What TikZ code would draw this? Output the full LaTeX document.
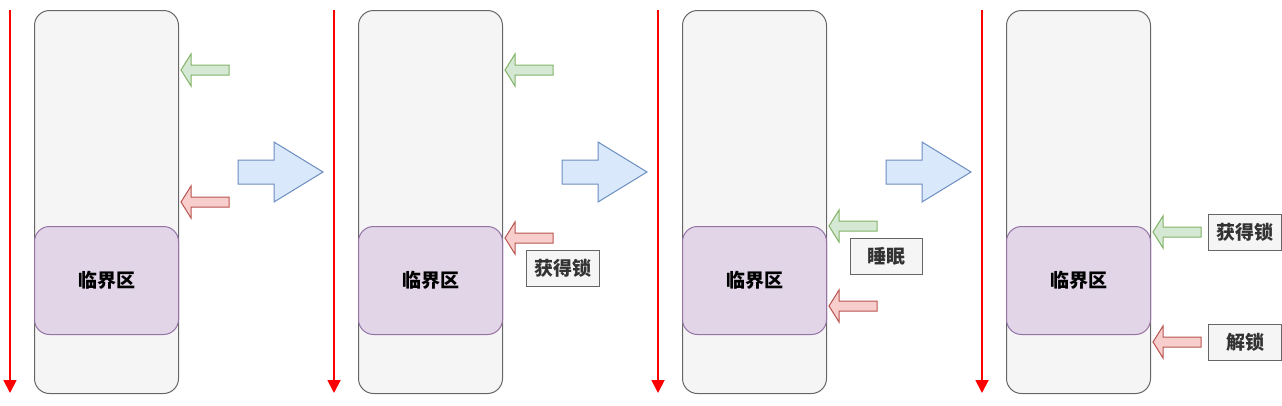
\documentclass[tikz,border=0pt]{standalone}
\usepackage{fontspec}
\setmainfont{Noto Sans CJK SC}
\usetikzlibrary{arrows.meta}
\definecolor{grayfill}{HTML}{F5F5F5}
\definecolor{graydraw}{HTML}{666666}
\definecolor{purplefill}{HTML}{E1D5E7}
\definecolor{purpledraw}{HTML}{9673A6}
\definecolor{greenfill}{HTML}{D5E8D4}
\definecolor{greendraw}{HTML}{82B366}
\definecolor{redfill}{HTML}{F8CECC}
\definecolor{reddraw}{HTML}{B85450}
\definecolor{bluefill}{HTML}{DAE8FC}
\definecolor{bluedraw}{HTML}{6C8EBF}
\definecolor{labeltext}{HTML}{333333}
\tikzset{
  threadbox/.style={draw=graydraw,fill=grayfill,rounded corners=15pt,line width=1pt},
  critbox/.style={draw=purpledraw,fill=purplefill,rounded corners=15pt,line width=1pt,
    font=\fontsize{19}{22}\selectfont\bfseries,text=black},
  labelbox/.style={draw=graydraw,fill=grayfill,line width=1pt,
    font=\fontsize{19}{22}\selectfont\bfseries,text=labeltext,inner sep=0pt},
  timeline/.style={draw=red,line width=1.8pt,-{Triangle[length=13pt,width=13pt]}},
  greenarr/.style={draw=greendraw,fill=greenfill,line width=1pt},
  redarr/.style={draw=reddraw,fill=redfill,line width=1pt},
  bluearr/.style={draw=bluedraw,fill=bluefill,line width=1pt},
}
\newcommand\mylarrow[3]{% style, tipx, tipy
  \draw[#1] (#2,#3) -- ++(10,-16) -- ++(0,11) -- ++(38,0) -- ++(0,10) -- ++(-38,0) -- ++(0,11) -- cycle;}
\newcommand\mybigarrow[1]{% left x
  \draw[bluearr] (#1,160) -- ++(36,0) -- ++(0,-18) -- ++(49,30) -- ++(-49,30) -- ++(0,-18) -- ++(-36,0) -- cycle;}
\begin{document}
\begin{tikzpicture}[x=1pt,y=-1pt]
\useasboundingbox (0,0) rectangle (1282,405);
% panels
\foreach \i/\dx in {1/0,2/324,3/648,4/972}{
  \coordinate (ts\i) at (10+\dx,10);
  \coordinate (te\i) at (10+\dx,393);
  \draw[timeline] (ts\i) -- (te\i);
  \node[threadbox,minimum width=144pt,minimum height=383pt,anchor=north west] (t\i) at (34+\dx,10) {};
  \node[critbox,minimum width=144pt,minimum height=108pt,anchor=north west] (c\i) at (34+\dx,226) {临界区};
}
% panel 1
\mylarrow{greenarr}{181}{70}
\mylarrow{redarr}{181}{202}
\mybigarrow{238}
% panel 2
\mylarrow{greenarr}{505}{70}
\mylarrow{redarr}{505}{238}
\node[labelbox,minimum width=73pt,minimum height=36pt,anchor=north west] (l2) at (526,250) {获得锁};
\mybigarrow{562}
% panel 3
\mylarrow{greenarr}{829}{226}
\node[labelbox,minimum width=72pt,minimum height=36pt,anchor=north west] (l3) at (850,238) {睡眠};
\mylarrow{redarr}{829}{306}
\mybigarrow{886}
% panel 4
\mylarrow{greenarr}{1153}{232}
\node[labelbox,minimum width=73pt,minimum height=36pt,anchor=north west] (l4a) at (1208,214) {获得锁};
\mylarrow{redarr}{1153}{342}
\node[labelbox,minimum width=73pt,minimum height=36pt,anchor=north west] (l4b) at (1208,324) {解锁};
\end{tikzpicture}
\end{document}
